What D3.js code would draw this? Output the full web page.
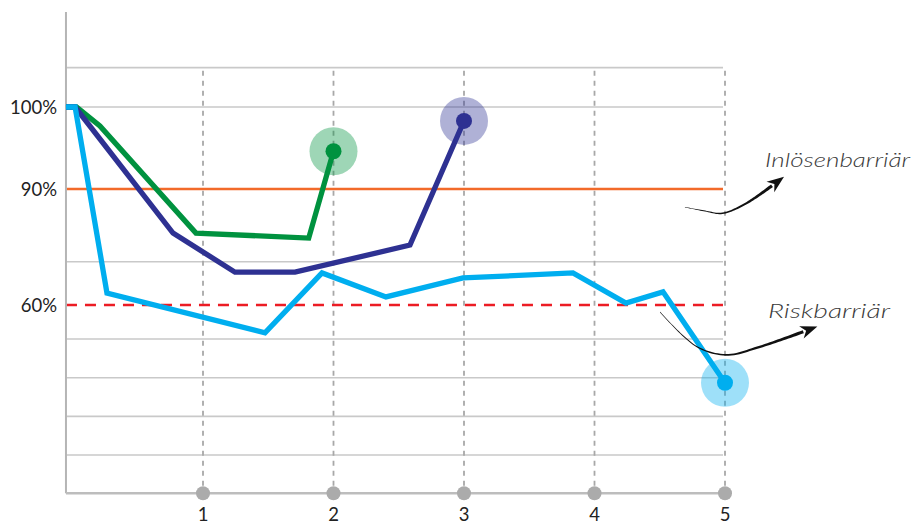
<!DOCTYPE html>
<html><head><meta charset="utf-8">
<script src="https://cdn.jsdelivr.net/npm/d3@7"></script>
<style>body{margin:0;background:#fff}</style>
</head><body>
<svg id="c" width="914" height="525"></svg>
<script>
// ---- data ----
const xTicks = [1, 2, 3, 4, 5];
const xTickLabels = ["1", "2", "3", "4", "5"];
const yTickValues = [100, 90, 60];
const yTickLabels = ["100%", "90%", "60%"];
const gridValues = [104.8, 100, 71.2, 51.2, 41.2, 31.2, 21.2];
const autocallBarrier = 90;
const riskBarrier = 60;
const axisMinT = -0.05, axisMaxT = 5;
const axisMinV = 11.3, axisTopV = 111.6;

const greenT = [-0.05, 0.03, 0.21, 0.946, 1.81, 2];
const greenV = [100, 100, 97.7, 78.6, 77.3, 94.6];
const navyT = [-0.05, 0.02, 0.77, 1.245, 1.705, 2.586, 3];
const navyV = [100, 100, 78.6, 68.5, 68.5, 75.5, 98.3];
const cyanT = [-0.05, 0.02, 0.264, 1.475, 1.912, 2.402, 2.992, 3.835, 4.241, 4.525, 5];
const cyanV = [100, 100, 63.1, 52.8, 68.3, 62.1, 67.0, 68.3, 60.5, 63.4, 39.9];

const annoInlosenT = [4.693, 4.847, 4.977, 5.153, 5.36];
const annoInlosenV = [85.3, 84.3, 83.7, 86.1, 90.4];
const annoRiskT = [4.502, 4.785, 5.015, 5.268, 5.6];
const annoRiskV = [58.2, 49.2, 47.1, 49.2, 53.1];
const labelInlosen = "Inlösenbarriär";
const labelRisk = "Riskbarriär";

// ---- scales ----
const x = d3.scaleLinear().domain([0, 5]).range([72.5, 725]);
const y = d3.scaleLinear().domain([60, 90, 100]).range([305, 189, 107]);

const svg = d3.select("#c");
const gray = "#c9c9c9";

// horizontal grid
svg.append("g").selectAll("line").data(gridValues).join("line")
  .attr("x1", x(axisMinT)).attr("x2", x(axisMaxT) - 2)
  .attr("y1", d => y(d)).attr("y2", d => y(d))
  .attr("stroke", gray).attr("stroke-width", 1.6);

// vertical dashed lines
svg.append("g").selectAll("line").data(xTicks).join("line")
  .attr("x1", d => x(d)).attr("x2", d => x(d))
  .attr("y1", y(gridValues[0]) + 3).attr("y2", y(axisMinV))
  .attr("stroke", "#a8a8a8").attr("stroke-width", 1.8).attr("stroke-dasharray", "5,5");

// barriers
svg.append("line")
  .attr("x1", x(axisMinT)).attr("x2", x(axisMaxT) - 2)
  .attr("y1", y(autocallBarrier)).attr("y2", y(autocallBarrier))
  .attr("stroke", "#f26a2a").attr("stroke-width", 2.5);
svg.append("line")
  .attr("x1", x(axisMinT)).attr("x2", x(axisMaxT))
  .attr("y1", y(riskBarrier)).attr("y2", y(riskBarrier))
  .attr("stroke", "#ec1c24").attr("stroke-width", 2.5).attr("stroke-dasharray", "11,8");

// axes
svg.append("line")
  .attr("x1", x(axisMinT)).attr("x2", x(axisMinT))
  .attr("y1", y(axisTopV)).attr("y2", y(axisMinV))
  .attr("stroke", "#b5b5b5").attr("stroke-width", 2);
svg.append("line")
  .attr("x1", x(axisMinT)).attr("x2", x(axisMaxT))
  .attr("y1", y(axisMinV)).attr("y2", y(axisMinV))
  .attr("stroke", "#bdbdbd").attr("stroke-width", 2.5);
svg.append("g").selectAll("circle").data(xTicks).join("circle")
  .attr("cx", d => x(d)).attr("cy", y(axisMinV)).attr("r", 7).attr("fill", "#ababab");

// tick labels
const font = "Lato, 'Open Sans', sans-serif";
svg.append("g").selectAll("text").data(xTicks).join("text")
  .attr("x", d => x(d)).attr("y", 521).attr("text-anchor", "middle")
  .attr("font-family", font).attr("font-size", 18.5).attr("fill", "#222")
  .text((d, i) => xTickLabels[i]);
svg.append("g").selectAll("text").data(yTickValues).join("text")
  .attr("x", 57).attr("y", d => y(d)).attr("dy", "0.36em").attr("text-anchor", "end")
  .attr("font-family", font).attr("font-size", 18.5).attr("fill", "#222")
  .text((d, i) => yTickLabels[i]);

// series
const series = [
  {t: greenT, v: greenV, c: "#00923f"},
  {t: navyT, v: navyV, c: "#2e3192"},
  {t: cyanT, v: cyanV, c: "#00aeef"}
];
const line = d3.line().x(d => x(d[0])).y(d => y(d[1]));
series.forEach(s => {
  const pts = s.t.map((t, i) => [t, s.v[i]]);
  svg.append("path").attr("d", line(pts)).attr("fill", "none")
    .attr("stroke", s.c).attr("stroke-width", 5.3).attr("stroke-linejoin", "miter");
});
series.forEach(s => {
  const n = s.t.length - 1;
  svg.append("circle").attr("cx", x(s.t[n])).attr("cy", y(s.v[n])).attr("r", 24)
    .attr("fill", s.c).attr("fill-opacity", 0.38);
  svg.append("circle").attr("cx", x(s.t[n])).attr("cy", y(s.v[n])).attr("r", 8)
    .attr("fill", s.c);
});

// annotations (tapered arrows)
function arrow(T, V) {
  const pts = T.map((t, i) => [x(t), y(V[i])]);
  const tmp = svg.append("path").attr("d", d3.line().curve(d3.curveCatmullRom)(pts))
    .attr("fill", "none").attr("stroke", "none");
  const node = tmp.node();
  const L = node.getTotalLength();
  const N = 60, left = [], right = [];
  for (let i = 0; i <= N; i++) {
    const l = L * i / N;
    const p = node.getPointAtLength(l);
    const q = node.getPointAtLength(Math.min(L, l + 0.5));
    const p0 = node.getPointAtLength(Math.max(0, l - 0.5));
    let dx = q.x - p0.x, dy = q.y - p0.y; const m = Math.hypot(dx, dy) || 1;
    dx /= m; dy /= m;
    const w = 0.25 + 1.35 * Math.pow(i / N, 1.2);
    left.push([p.x - dy * w, p.y + dx * w]);
    right.push([p.x + dy * w, p.y - dx * w]);
  }
  tmp.remove();
  svg.append("path").attr("d", "M" + left.concat(right.reverse()).map(p => p.join(",")).join("L") + "Z")
    .attr("fill", "#111");
  const e = node.getPointAtLength(L), b = node.getPointAtLength(L - 4);
  let dx = e.x - b.x, dy = e.y - b.y; const m = Math.hypot(dx, dy); dx /= m; dy /= m;
  const nx = -dy, ny = dx;
  const head = [
    [e.x + dx * 15, e.y + dy * 15],
    [e.x + nx * 6.5 - dx * 2, e.y + ny * 6.5 - dy * 2],
    [e.x + dx * 3, e.y + dy * 3],
    [e.x - nx * 6.5 - dx * 2, e.y - ny * 6.5 - dy * 2]
  ];
  svg.append("path").attr("d", "M" + head.map(p => p.join(",")).join("L") + "Z").attr("fill", "#111");
}
arrow(annoInlosenT, annoInlosenV);
arrow(annoRiskT, annoRiskV);

const hand = "'Segoe Print','Comic Sans MS',Lato,sans-serif";
svg.append("text").attr("x", 765).attr("y", 167).attr("font-family", hand)
  .attr("font-size", 19).attr("font-style", "italic").attr("font-weight", 300)
  .attr("fill", "#3a3a3a").attr("textLength", 145).attr("lengthAdjust", "spacingAndGlyphs")
  .text(labelInlosen);
svg.append("text").attr("x", 768).attr("y", 318).attr("font-family", hand)
  .attr("font-size", 19).attr("font-style", "italic").attr("font-weight", 300)
  .attr("fill", "#3a3a3a").attr("textLength", 122).attr("lengthAdjust", "spacingAndGlyphs")
  .text(labelRisk);
</script>
</body></html>
